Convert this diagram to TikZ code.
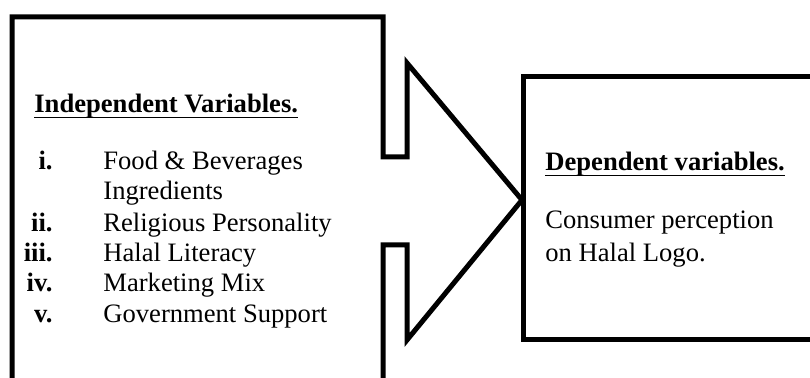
\documentclass[tikz,border=0pt]{standalone}
\usepackage{fontspec}
\setmainfont{Liberation Serif}
\usetikzlibrary{positioning}

\begin{document}
\begin{tikzpicture}[x=0.5pt, y=-0.5pt, every node/.style={inner sep=0pt, font=\fontsize{13.3}{15}\selectfont}]
    \useasboundingbox (0, 0) rectangle (810, 378);

    % left box with the notched arrow
    \draw [line width=2.5pt, line join=miter] (12, 392) -- (12, 17) -- (383, 17) -- (383, 157) -- (407, 157) -- (407, 63) -- (522, 200) -- (407, 340) -- (407, 245) -- (383, 245) -- (383, 392);

    % right box, open to the right
    \draw [line width=2.5pt, line join=miter] (822, 77) -- (523, 77) -- (523, 340) -- (822, 340);

    \node (indep) at (34, 113) [anchor=base west] {\textbf{Independent Variables.}};
    \draw [line width=0.9pt] ([yshift=-2.3pt] indep.base west) -- ([yshift=-2.3pt] indep.base east);

    \node (num1) at (53, 170) [anchor=base east] {\textbf{i.}};
    \node (item1) at (103, 170) [anchor=base west] {Food \& Beverages};
    \node (item1b) at (103, 200) [anchor=base west] {Ingredients};
    \node (num2) at (53, 232) [anchor=base east] {\textbf{ii.}};
    \node (item2) at (103, 232) [anchor=base west] {Religious Personality};
    \node (num3) at (53, 262) [anchor=base east] {\textbf{iii.}};
    \node (item3) at (103, 262) [anchor=base west] {Halal Literacy};
    \node (num4) at (53, 292) [anchor=base east] {\textbf{iv.}};
    \node (item4) at (103, 292) [anchor=base west] {Marketing Mix};
    \node (num5) at (53, 323) [anchor=base east] {\textbf{v.}};
    \node (item5) at (103, 323) [anchor=base west] {Government Support};

    \node (dep) at (545, 171) [anchor=base west] {\textbf{Dependent variables.}};
    \draw [line width=0.9pt] ([yshift=-2.3pt] dep.base west) -- ([yshift=-2.3pt] dep.base east);

    \node (cons) at (545, 229) [anchor=base west] {Consumer perception};
    \node (logo) at (545, 262) [anchor=base west] {on Halal Logo.};

\end{tikzpicture}
\end{document}
